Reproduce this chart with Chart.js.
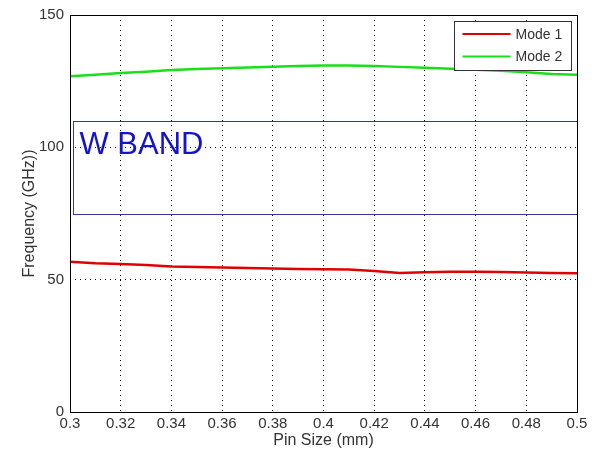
<!DOCTYPE html>
<html>
<head>
<meta charset="utf-8">
<script src="https://cdn.jsdelivr.net/npm/chart.js@4.4.0/dist/chart.umd.min.js"></script>
<style>
  html, body { margin: 0; padding: 0; background: #fff; }
  #wrap { width: 597px; height: 461px; }
</style>
</head>
<body>
<div id="wrap"><canvas id="freqChart" width="597" height="461"></canvas></div>
<script>
// Pin size sweep (mm) and the two mode frequencies (GHz)
const pinSize = [0.30, 0.31, 0.32, 0.33, 0.34, 0.35, 0.36, 0.37, 0.38, 0.39, 0.40,
                 0.41, 0.42, 0.43, 0.44, 0.45, 0.46, 0.47, 0.48, 0.49, 0.50];
const mode1 = [56.8, 56.2, 55.9, 55.5, 55.0, 54.8, 54.6, 54.4, 54.2, 54.0, 53.9,
               53.8, 53.3, 52.5, 52.8, 53.0, 53.0, 52.9, 52.7, 52.5, 52.4];
const mode2 = [126.9, 127.4, 128.1, 128.6, 129.2, 129.6, 129.9, 130.2, 130.4, 130.7, 130.9,
               130.9, 130.7, 130.4, 130.1, 129.7, 129.3, 128.9, 128.4, 127.7, 127.4];
const seriesNames = ['Mode 1', 'Mode 2'];
const xTicks = [0.3, 0.32, 0.34, 0.36, 0.38, 0.4, 0.42, 0.44, 0.46, 0.48, 0.5];
const yTicks = [0, 50, 100, 150];
const wBand = [75, 110];   // GHz
const wBandLabel = 'W BAND';

const FONT = '"Liberation Sans", Arial, sans-serif';

// frame + W band box + legend, all placed through the scales
const extras = {
    id: 'extras',
    beforeDatasetsDraw(chart) {
        const { ctx, chartArea: a, scales: { x, y } } = chart;
        ctx.save();
        const top = y.getPixelForValue(wBand[1]);
        const bot = y.getPixelForValue(wBand[0]);
        const l = x.getPixelForValue(pinSize[0]) + 2.5;
        ctx.strokeStyle = '#3535a8';
        ctx.lineWidth = 1;
        ctx.strokeRect(Math.round(l) + 0.5, Math.round(top) + 0.5,
                       Math.round(a.right - 1 - l), Math.round(bot - top));
        ctx.fillStyle = '#1414cc';
        ctx.font = '31px ' + FONT;
        ctx.textBaseline = 'alphabetic';
        ctx.fillText(wBandLabel, l + 7, y.getPixelForValue(97.6));
        ctx.restore();
    },
    afterDraw(chart) {
        const { ctx, chartArea: a } = chart;
        ctx.save();
        ctx.strokeStyle = '#000';
        ctx.lineWidth = 1;
        ctx.strokeRect(Math.round(a.left) + 0.5, Math.round(a.top) + 0.5,
                       Math.round(a.right - a.left), Math.round(a.bottom - a.top));
        // legend box
        const bx = 454.5, by = 21.5, bw = 117, bh = 49;
        ctx.fillStyle = '#fff';
        ctx.fillRect(bx, by, bw, bh);
        ctx.strokeStyle = '#333';
        ctx.strokeRect(bx, by, bw, bh);
        ctx.font = '14px ' + FONT;
        ctx.textBaseline = 'middle';
        chart.data.datasets.forEach((ds, i) => {
            const yy = by + 12.5 + i * 22.5;
            ctx.strokeStyle = ds.borderColor;
            ctx.lineWidth = 2;
            ctx.beginPath();
            ctx.moveTo(bx + 8, yy);
            ctx.lineTo(bx + 56, yy);
            ctx.stroke();
            ctx.fillStyle = '#333';
            ctx.fillText(ds.label, bx + 61, yy + 1);
        });
        ctx.restore();
    }
};

const ctx = document.getElementById('freqChart').getContext('2d');
new Chart(ctx, {
    type: 'line',
    data: {
        datasets: [
            { label: seriesNames[0], data: pinSize.map((p, i) => ({ x: p, y: mode1[i] })),
              borderColor: '#e00000', borderWidth: 2.5, pointRadius: 0, tension: 0 },
            { label: seriesNames[1], data: pinSize.map((p, i) => ({ x: p, y: mode2[i] })),
              borderColor: '#18e018', borderWidth: 2.5, pointRadius: 0, tension: 0 }
        ]
    },
    options: {
        responsive: false,
        animation: false,
        layout: { padding: { top: 14, right: 20, left: 0, bottom: 0 } },
        plugins: { legend: { display: false }, tooltip: { enabled: false } },
        scales: {
            x: {
                type: 'linear', min: 0.3, max: 0.5,
                afterBuildTicks: s => { s.ticks = xTicks.map(v => ({ value: v })); },
                afterFit: s => { s.height = 49; },
                ticks: {
                    color: '#333', font: { family: FONT, size: 15 }, padding: 3,
                    callback: v => String(Number(v.toFixed(2)))
                },
                grid: { color: '#000', lineWidth: 1, drawTicks: false },
                border: { display: false, dash: [1, 4] },
                title: { display: true, text: 'Pin Size (mm)', color: '#333',
                         font: { family: FONT, size: 16 }, padding: { top: 2, bottom: 11 } }
            },
            y: {
                min: 0, max: 150,
                afterBuildTicks: s => { s.ticks = yTicks.map(v => ({ value: v })); },
                afterFit: s => { s.width = 70; },
                ticks: { color: '#333', font: { family: FONT, size: 15 }, padding: 6 },
                grid: { color: '#000', lineWidth: 1, drawTicks: false },
                border: { display: false, dash: [1, 4] },
                title: { display: true, text: 'Frequency (GHz))', color: '#333',
                         font: { family: FONT, size: 16 }, padding: { top: 20, bottom: 0 } }
            }
        }
    },
    plugins: [extras]
});
</script>
</body>
</html>
